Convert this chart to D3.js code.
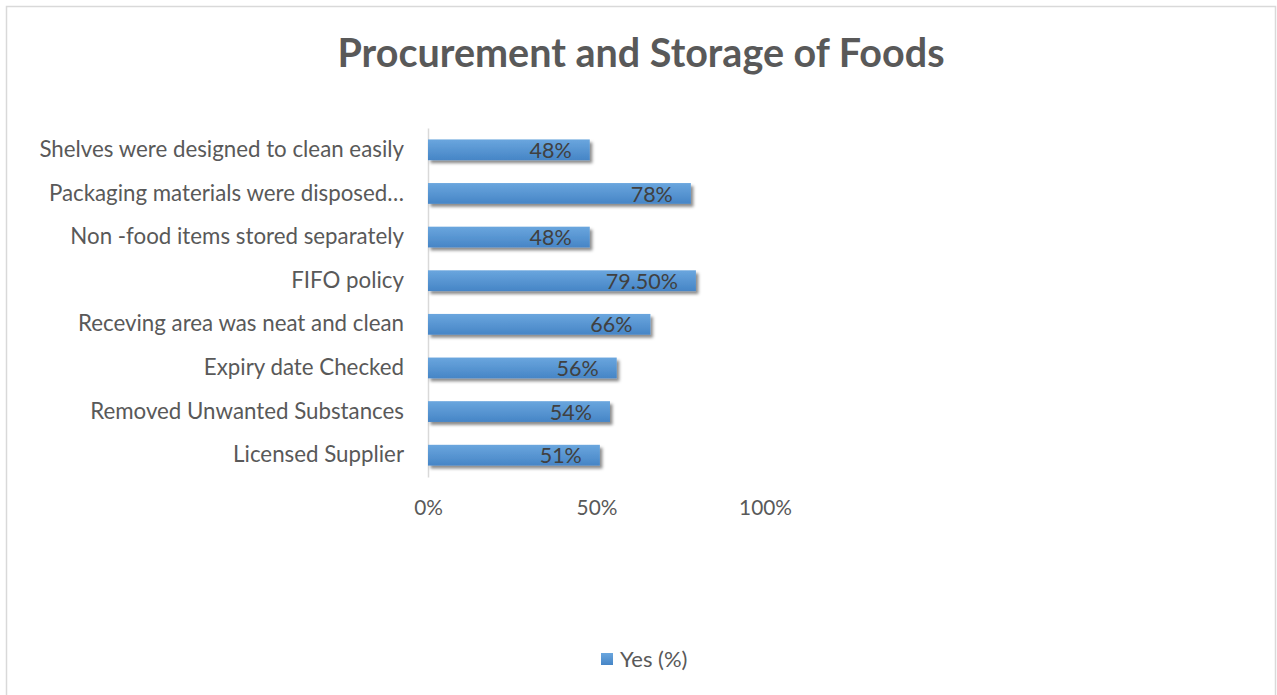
<!DOCTYPE html>
<html>
<head>
<meta charset="utf-8">
<script src="https://cdn.jsdelivr.net/npm/d3@7"></script>
<style>
  html, body { margin: 0; padding: 0; background: #fff; }
  svg { display: block; }
  text { font-family: Lato, "Open Sans", sans-serif; }
</style>
</head>
<body>
<svg id="chart" width="1277" height="695"></svg>
<script>
// Survey items, listed top to bottom
const categories = [
  "Shelves were designed to clean easily",
  "Packaging materials were disposed…",
  "Non -food items stored separately",
  "FIFO policy",
  "Receving area was neat and clean",
  "Expiry date Checked",
  "Removed Unwanted Substances",
  "Licensed Supplier"
];
// Share answering "Yes", in percent
const yesValues = [48, 78, 48, 79.5, 66, 56, 54, 51];
const xTicks = [0, 50, 100];
const seriesName = "Yes (%)";
const chartTitle = "Procurement and Storage of Foods";

const svg = d3.select("#chart");
const W = 1277, H = 695;

// Outer chart frame
svg.append("rect")
  .attr("x", 6.5).attr("y", 6.5)
  .attr("width", 1269).attr("height", H + 10)
  .attr("fill", "#fff")
  .attr("stroke", "#d9d9d9").attr("stroke-width", 1.5);

const defs = svg.append("defs");
const grad = defs.append("linearGradient")
  .attr("id", "barFill").attr("x1", 0).attr("y1", 0).attr("x2", 0).attr("y2", 1);
grad.append("stop").attr("offset", "0%").attr("stop-color", "#6aa6de");
grad.append("stop").attr("offset", "100%").attr("stop-color", "#4685c6");

const shadow = defs.append("filter").attr("id", "barShadow")
  .attr("x", "-10%").attr("y", "-30%").attr("width", "130%").attr("height", "190%");
shadow.append("feDropShadow")
  .attr("dx", 2.5).attr("dy", 3).attr("stdDeviation", 1.8)
  .attr("flood-color", "#000").attr("flood-opacity", 0.45);

// Title
svg.append("text")
  .attr("x", 641).attr("y", 67)
  .attr("text-anchor", "middle")
  .attr("font-size", 39.5).attr("font-weight", "bold")
  .attr("fill", "#595959")
  .text(chartTitle);

// Scales
const x = d3.scaleLinear().domain([0, 100]).range([428, 765]);
const y = d3.scaleBand().domain(categories).range([128, 477])
  .paddingInner(0.524).paddingOuter(0.262);

// Category axis
const yAxis = svg.append("g")
  .attr("transform", `translate(${x(0)},0)`)
  .call(d3.axisLeft(y).tickSize(0).tickPadding(24));
yAxis.select(".domain").attr("stroke", "#d9d9d9").attr("stroke-width", 1.5);
yAxis.selectAll("text")
  .attr("font-size", 22.3).attr("fill", "#595959")
  .style("font-family", "Lato, 'Open Sans', sans-serif");

// Value axis labels
const xAxis = svg.append("g")
  .attr("transform", "translate(0,500)")
  .call(d3.axisBottom(x).tickValues(xTicks).tickSize(0).tickPadding(0)
    .tickFormat(d => d + "%"));
xAxis.select(".domain").remove();
xAxis.selectAll("text")
  .attr("font-size", 20.8).attr("fill", "#595959")
  .style("font-family", "Lato, 'Open Sans', sans-serif");

// Bars
const rows = categories.map((c, i) => ({ c, v: yesValues[i] }));
svg.append("g").selectAll("rect")
  .data(rows).join("rect")
  .attr("x", x(0))
  .attr("y", d => y(d.c))
  .attr("width", d => x(d.v) - x(0))
  .attr("height", y.bandwidth())
  .attr("fill", "url(#barFill)")
  .attr("filter", "url(#barShadow)");

// Value labels, inside the bar end
const fmt = v => Number.isInteger(v) ? v + "%" : v.toFixed(2) + "%";
svg.append("g").selectAll("text")
  .data(rows).join("text")
  .attr("x", d => x(d.v) - 18)
  .attr("y", d => y(d.c) + y.bandwidth() / 2)
  .attr("dy", "0.38em")
  .attr("text-anchor", "end")
  .attr("font-size", 21.5)
  .attr("fill", "#404040")
  .text(d => fmt(d.v));

// Legend
const legend = svg.append("g").attr("transform", "translate(601,653)");
legend.append("rect")
  .attr("width", 12).attr("height", 12)
  .attr("fill", "url(#barFill)");
legend.append("text")
  .attr("x", 19).attr("y", 6).attr("dy", "0.36em")
  .attr("font-size", 22).attr("fill", "#595959")
  .text(seriesName);
</script>
</body>
</html>
